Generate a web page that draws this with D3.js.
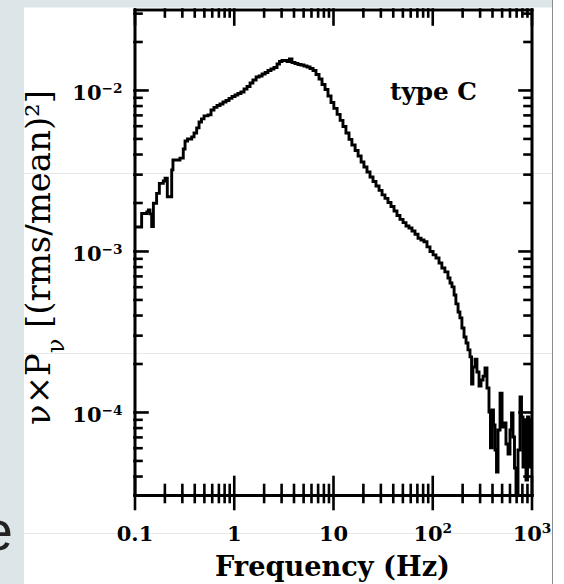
<!DOCTYPE html>
<html>
<head>
<meta charset="utf-8">
<script src="https://cdn.jsdelivr.net/npm/d3@7"></script>
<style>
  body { margin: 0; background: #fff; }
  svg { display: block; }
</style>
</head>
<body>
<div id="chart"></div>
<script>
// binned power spectrum (step histogram)
const frequency = [
  0.1, 0.118, 0.133, 0.138, 0.143, 0.149, 0.155, 0.167, 0.178, 0.195,
  0.203, 0.214, 0.237, 0.244, 0.287, 0.310, 0.323, 0.342, 0.377, 0.398,
  0.423, 0.447, 0.473, 0.502, 0.550, 0.590, 0.632, 0.678, 0.727, 0.779,
  0.835, 0.896, 0.960, 1.03, 1.10, 1.18, 1.27, 1.36, 1.46, 1.56,
  1.68, 1.80, 1.93, 2.07, 2.21, 2.37, 2.54, 2.73, 2.89, 3.06,
  3.25, 3.44, 3.64, 3.86, 4.14, 4.44, 4.76, 5.10, 5.47, 5.87,
  6.29, 6.74, 7.23, 7.75, 8.31, 8.90, 9.55, 10.2, 11.0, 11.8,
  12.6, 13.5, 14.5, 15.5, 16.7, 17.9, 19.2, 20.5, 22.0, 23.6,
  25.3, 27.1, 29.1, 31.2, 33.4, 35.8, 38.4, 41.2, 44.1, 47.3,
  50.8, 54.4, 58.3, 62.5, 67.0, 71.9, 77.0, 82.6, 88.5, 94.9,
  102, 109, 117, 125, 134, 144, 151, 158, 166, 173,
  182, 190, 199, 209, 219, 229, 240, 249, 257, 270,
  282, 296, 310, 325, 340, 356, 373, 386, 400, 414,
  429, 444, 460, 482, 505, 528, 553, 580, 607, 629,
  651, 674, 698, 731, 766, 793, 821, 850, 880, 911,
  944, 966
]

const power = [
  1.41e-3, 1.71e-3, 1.75e-3, 1.80e-3, 1.70e-3, 1.42e-3, 1.98e-3, 2.28e-3, 2.63e-3, 2.72e-3,
  2.83e-3, 2.17e-3, 3.19e-3, 3.67e-3, 3.77e-3, 4.30e-3, 4.82e-3, 4.96e-3, 5.11e-3, 5.40e-3,
  5.81e-3, 6.33e-3, 6.61e-3, 6.90e-3, 7.00e-3, 7.51e-3, 7.79e-3, 8.01e-3, 8.18e-3, 8.42e-3,
  8.60e-3, 8.86e-3, 9.11e-3, 9.31e-3, 9.51e-3, 9.72e-3, 1.014e-2, 1.051e-2, 1.105e-2, 1.154e-2,
  1.204e-2, 1.222e-2, 1.257e-2, 1.284e-2, 1.322e-2, 1.350e-2, 1.380e-2, 1.450e-2, 1.503e-2, 1.525e-2,
  1.525e-2, 1.503e-2, 1.558e-2, 1.482e-2, 1.461e-2, 1.440e-2, 1.430e-2, 1.410e-2, 1.390e-2, 1.360e-2,
  1.322e-2, 1.248e-2, 1.170e-2, 1.082e-2, 1.007e-2, 9.18e-3, 8.36e-3, 7.68e-3, 7.05e-3, 6.47e-3,
  5.93e-3, 5.40e-3, 4.93e-3, 4.55e-3, 4.21e-3, 3.89e-3, 3.57e-3, 3.32e-3, 3.09e-3, 2.88e-3,
  2.70e-3, 2.53e-3, 2.38e-3, 2.23e-3, 2.12e-3, 2.00e-3, 1.89e-3, 1.77e-3, 1.66e-3, 1.57e-3,
  1.50e-3, 1.43e-3, 1.39e-3, 1.33e-3, 1.27e-3, 1.20e-3, 1.17e-3, 1.14e-3, 1.06e-3, 9.93e-4,
  9.45e-4, 9.05e-4, 8.42e-4, 7.84e-4, 7.41e-4, 6.80e-4, 6.33e-4, 5.98e-4, 5.33e-4, 4.69e-4,
  4.18e-4, 3.84e-4, 3.32e-4, 2.92e-4, 2.68e-4, 2.43e-4, 2.20e-4, 1.49e-4, 1.90e-4, 2.13e-4,
  1.77e-4, 1.45e-4, 1.58e-4, 1.67e-4, 1.88e-4, 1.41e-4, 1.00e-4, 5.98e-5, 1.03e-4, 8.30e-5,
  5.81e-5, 4.24e-5, 7.73e-5, 1.31e-4, 8.07e-5, 8.54e-5, 6.33e-5, 5.48e-5, 7.73e-5, 9.86e-5,
  6.99e-5, 4.49e-5, 3.14e-5, 5.81e-5, 1.24e-4, 9.31e-5, 4.55e-5, 8.92e-5, 3.78e-5, 9.31e-5,
  4.55e-5, 8.92e-5
]

const xTickValues = [0.1, 1, 10, 100, 1000]
const xTickBases = ['0.1', '1', '10', '10', '10']
const xTickExponents = ['', '', '', '2', '3']

const yTickValues = [1e-4, 1e-3, 1e-2]
const yTickBases = ['10', '10', '10']
const yTickExponents = ['\u22124', '\u22123', '\u22122']

const xTitle = 'Frequency (Hz)'
const panelLabel = 'type C'

const width = 564
const height = 584
const plot = { left: 134.5, right: 531.5, top: 9.5, bottom: 495 }
const serif = "'DejaVu Serif', serif"
const slideBlue = '#dce6e9'

const xScale = d3.scaleLog().domain([0.1, 1000]).range([plot.left, plot.right])
const yScale = d3.scaleLog().domain([3.05e-5, 0.0316]).range([plot.bottom, plot.top])

const isDecade = v => Math.abs(Math.log10(v) - Math.round(Math.log10(v))) < 1e-6
const xMinor = xScale.ticks().filter(v => !isDecade(v))
const yMinor = yScale.ticks().filter(v => !isDecade(v))

const svg = d3.select('#chart').append('svg').attr('width', width).attr('height', height)

// slide background
svg.append('rect').attr('width', width).attr('height', height).attr('fill', '#fff')
svg.append('rect').attr('width', 24).attr('height', height).attr('fill', slideBlue)
svg.append('rect').attr('width', 552).attr('height', 7.5).attr('fill', slideBlue)
svg
  .selectAll('line.guide')
  .data([173, 353, 533])
  .enter()
  .append('line')
  .attr('class', 'guide')
  .attr('x1', 24)
  .attr('x2', 552)
  .attr('y1', d => d + 0.5)
  .attr('y2', d => d + 0.5)
  .attr('stroke', '#e6e9ea')
  .attr('stroke-width', 1)

// curve
const points = frequency.map((f, i) => ({ f, p: power[i] }))
points.push({ f: xScale.domain()[1], p: power[power.length - 1] })

const line = d3
  .line()
  .x(d => xScale(d.f))
  .y(d => yScale(d.p))
  .curve(d3.curveStepAfter)

svg
  .append('path')
  .datum(points)
  .attr('d', line)
  .attr('fill', 'none')
  .attr('stroke', '#000')
  .attr('stroke-width', 2.9)
  .attr('stroke-linejoin', 'miter')

const powerLabel = (text, base, exponent) => {
  text.text(null)
  text.append('tspan').text(base)
  if (exponent) {
    text.append('tspan').attr('font-size', '65%').attr('dy', '-0.55em').text(exponent)
  }
}

const styleLabels = sel =>
  sel
    .attr('font-family', serif)
    .attr('font-size', 21)
    .attr('font-weight', 'bold')
    .attr('fill', '#000')

// bottom axis: ticks cross the line
const xBottom = svg.append('g').attr('transform', `translate(0,${plot.bottom})`)
xBottom.append('g').call(d3.axisBottom(xScale).tickValues(xMinor).tickSize(7).tickSizeOuter(0).tickFormat(''))
xBottom.append('g').call(d3.axisTop(xScale).tickValues(xMinor).tickSize(10).tickSizeOuter(0).tickFormat(''))
xBottom.append('g').call(d3.axisTop(xScale).tickValues(xTickValues).tickSize(18).tickSizeOuter(0).tickFormat(''))
const xMajor = xBottom
  .append('g')
  .call(d3.axisBottom(xScale).tickValues(xTickValues).tickSize(14).tickSizeOuter(0))
xMajor
  .selectAll('.tick text')
  .attr('y', 46)
  .attr('dy', null)
  .call(styleLabels)
  .each(function (d, i) {
    powerLabel(d3.select(this), xTickBases[i], xTickExponents[i])
  })

// top axis
const xTop = svg.append('g').attr('transform', `translate(0,${plot.top})`)
xTop.append('g').call(d3.axisBottom(xScale).tickValues(xMinor).tickSize(7).tickSizeOuter(0).tickFormat(''))
xTop.append('g').call(d3.axisBottom(xScale).tickValues(xTickValues).tickSize(15).tickSizeOuter(0).tickFormat(''))

// left axis
const yLeft = svg.append('g').attr('transform', `translate(${plot.left},0)`)
yLeft.append('g').call(d3.axisLeft(yScale).tickValues(yMinor).tickSize(-7).tickSizeOuter(0).tickFormat(''))
const yMajor = yLeft
  .append('g')
  .call(d3.axisLeft(yScale).tickValues(yTickValues).tickSize(-13).tickSizeOuter(0).tickPadding(12))
yMajor
  .selectAll('.tick text')
  .attr('dy', 10)
  .call(styleLabels)
  .each(function (d, i) {
    powerLabel(d3.select(this), yTickBases[i], yTickExponents[i])
  })

// right axis
const yRight = svg.append('g').attr('transform', `translate(${plot.right},0)`)
yRight.append('g').call(d3.axisRight(yScale).tickValues(yMinor).tickSize(-7).tickSizeOuter(0).tickFormat(''))
yRight.append('g').call(d3.axisRight(yScale).tickValues(yTickValues).tickSize(-12).tickSizeOuter(0).tickFormat(''))

svg
  .selectAll('.domain, .tick line')
  .attr('stroke', '#000')
  .attr('stroke-width', 2.6)
  .attr('stroke-linecap', 'square')

const fitText = (text, targetWidth) => {
  const measured = text.node().getComputedTextLength()
  const size = parseFloat(text.attr('font-size'))
  text.attr('font-size', (size * targetWidth) / measured)
}

// axis titles
const xLabel = svg
  .append('text')
  .attr('x', 332.5)
  .attr('y', 576)
  .attr('text-anchor', 'middle')
  .attr('font-family', serif)
  .attr('font-weight', 'bold')
  .attr('font-size', 26)
  .attr('fill', '#000')
  .text(xTitle)
fitText(xLabel, 235)

const yLabel = svg
  .append('text')
  .attr('transform', 'translate(50,257.5) rotate(-90)')
  .attr('text-anchor', 'middle')
  .attr('font-family', serif)
  .attr('font-size', 28)
  .attr('fill', '#000')
yLabel.append('tspan').text('\u03bd\u00d7P')
yLabel.append('tspan').attr('font-size', '70%').attr('baseline-shift', 'sub').text('\u03bd')
yLabel.append('tspan').text(' [(rms/mean)\u00b2]')
fitText(yLabel, 335)

const typeLabel = svg
  .append('text')
  .attr('x', 390)
  .attr('y', 100)
  .attr('font-family', serif)
  .attr('font-weight', 'bold')
  .attr('font-size', 24)
  .attr('fill', '#000')
  .text(panelLabel)
fitText(typeLabel, 87)

// slide edge on the right and stray letter on the left
svg.append('rect').attr('x', 552).attr('width', width - 552).attr('height', height).attr('fill', '#fff')
svg
  .append('line')
  .attr('x1', 552.5)
  .attr('x2', 552.5)
  .attr('y1', 0)
  .attr('y2', height)
  .attr('stroke', '#8c8c8c')
  .attr('stroke-width', 1)
svg
  .append('text')
  .attr('x', 13)
  .attr('y', 550)
  .attr('text-anchor', 'end')
  .attr('font-family', "'Liberation Sans', sans-serif")
  .attr('font-size', 56)
  .attr('fill', '#222')
  .text('e')
</script>
</body>
</html>
